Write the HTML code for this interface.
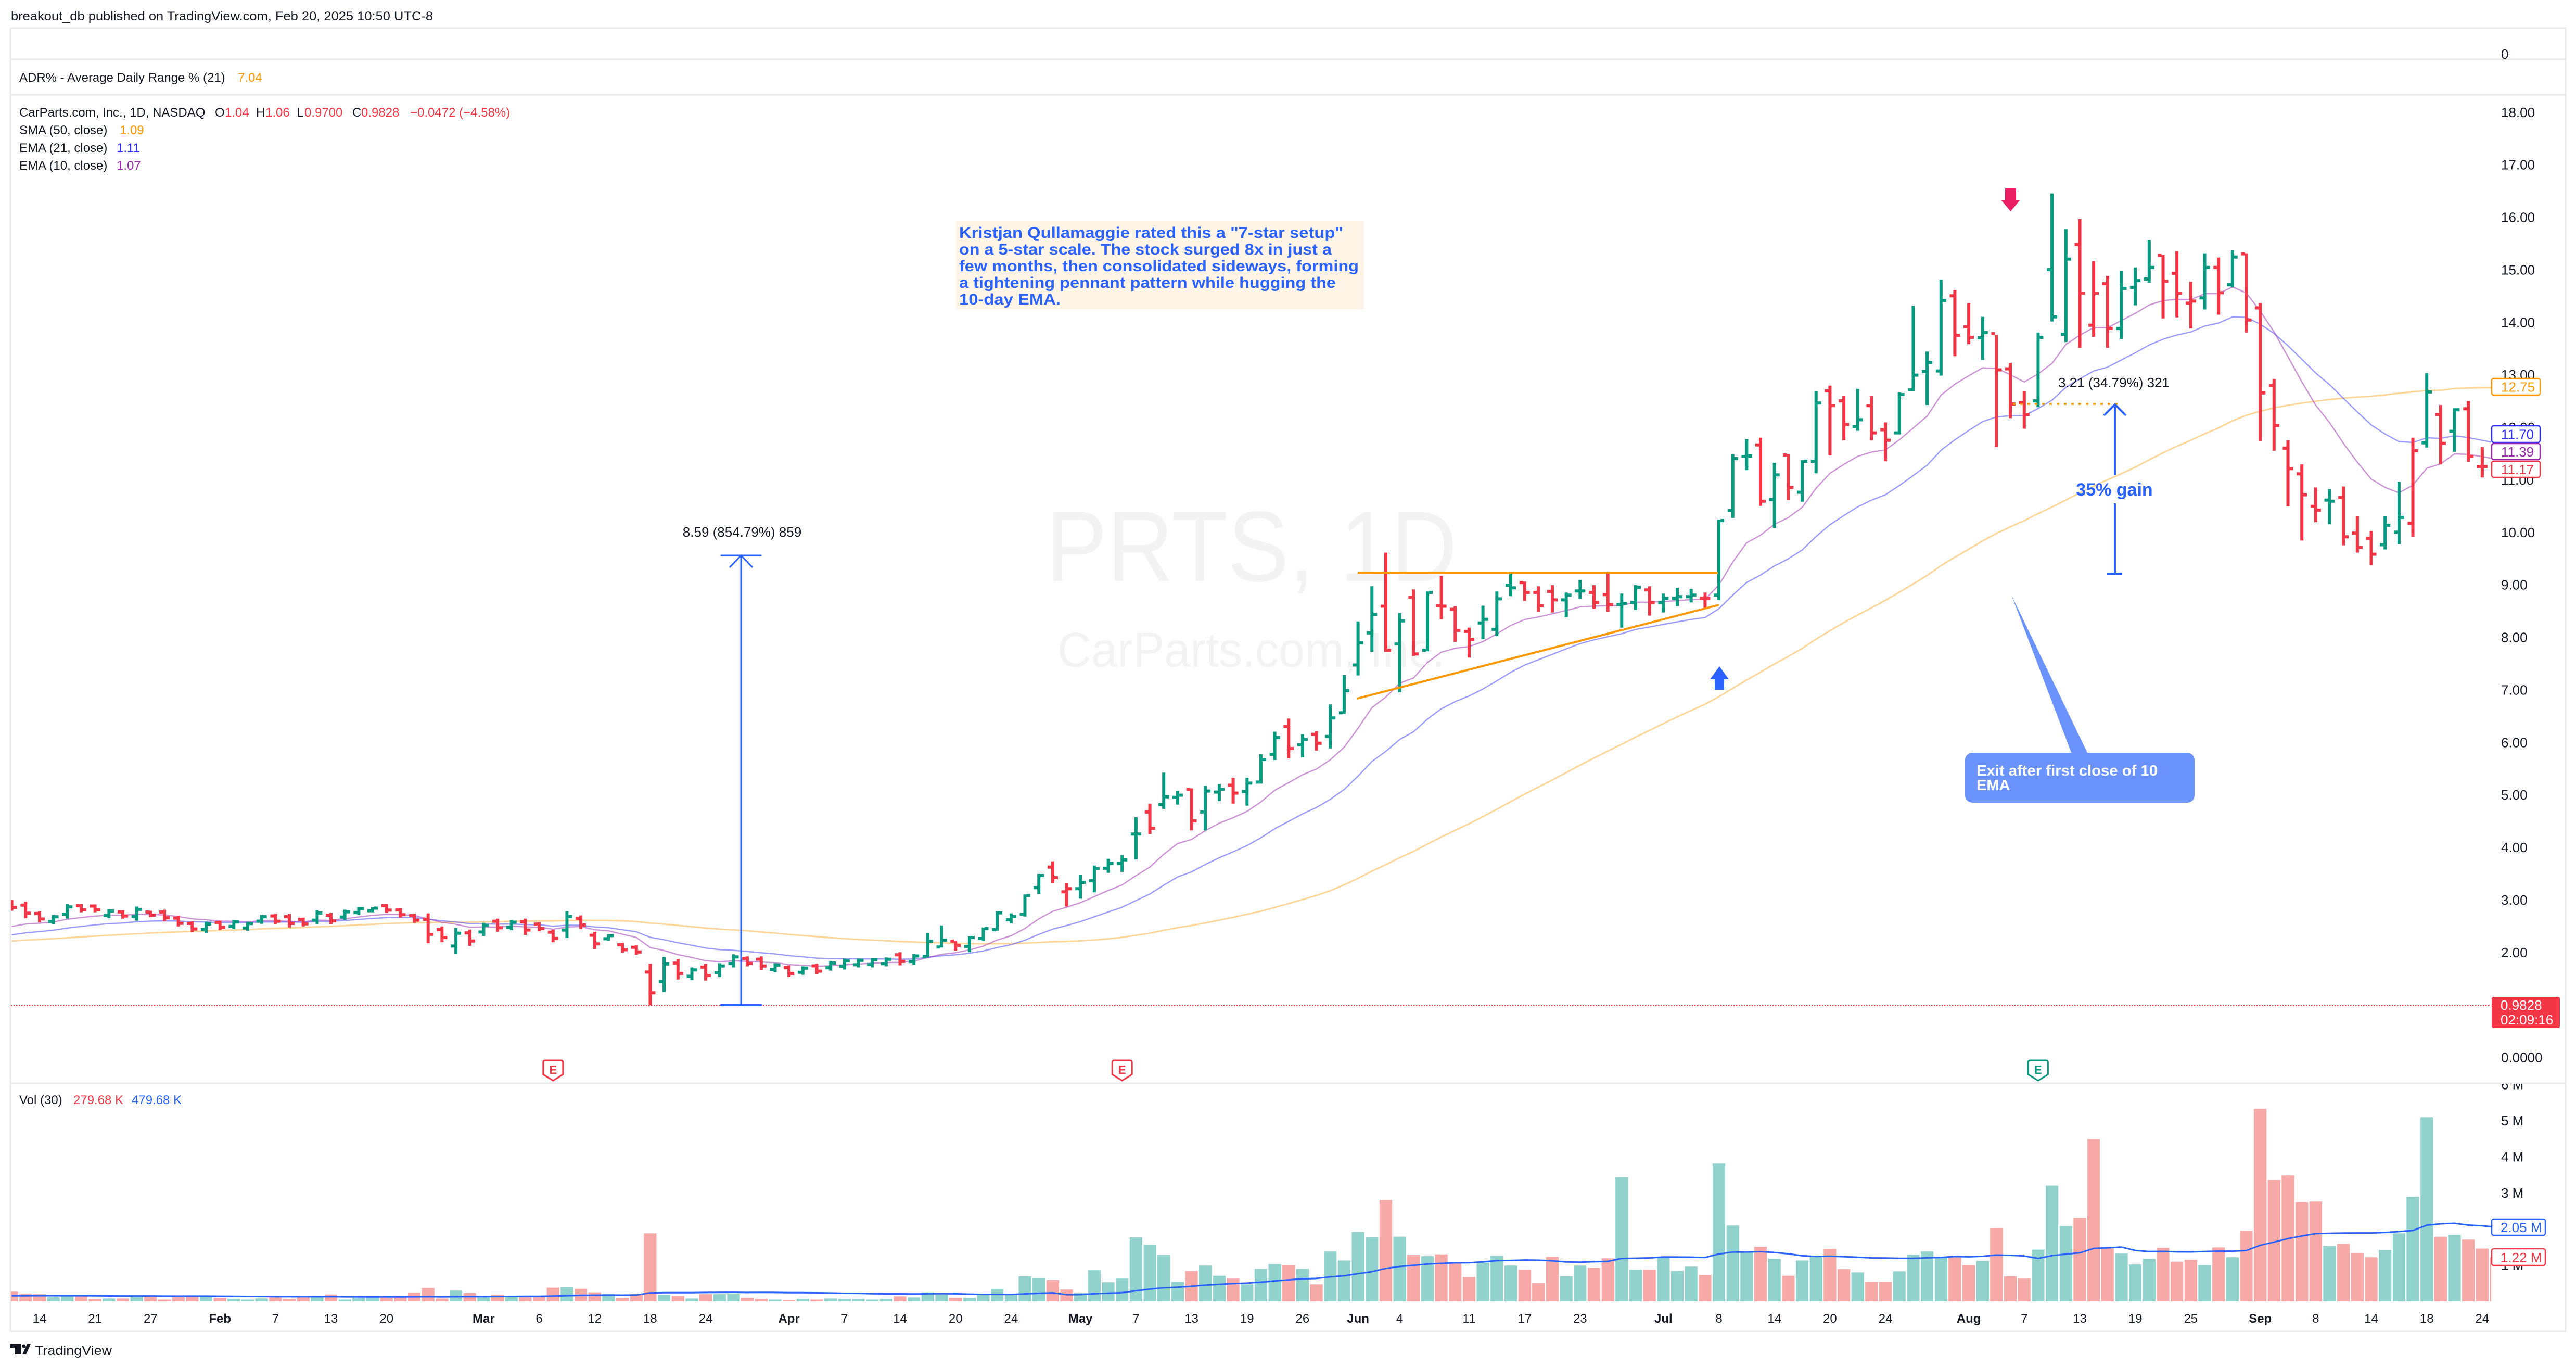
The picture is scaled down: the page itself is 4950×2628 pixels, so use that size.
<!DOCTYPE html>
<html><head><meta charset="utf-8"><title>PRTS 1D</title>
<style>
html,body{margin:0;padding:0;background:#ffffff;}
body{width:4950px;height:2628px;overflow:hidden;}
svg{display:block;}
text{font-family:"Liberation Sans",Arial,Helvetica,sans-serif;}
</style></head><body>
<svg id="chart" xmlns="http://www.w3.org/2000/svg" width="4950" height="2628" viewBox="0 0 4950 2628">
<defs>
<clipPath id="cm"><rect x="21" y="183" width="4766" height="1897"/></clipPath>
<clipPath id="cv"><rect x="21" y="2082" width="4766" height="460"/></clipPath>
<clipPath id="cva"><rect x="4788" y="2082" width="140" height="470"/></clipPath>
<clipPath id="cadr"><rect x="4788" y="55" width="140" height="58"/></clipPath>
</defs>
<rect width="4950" height="2628" fill="#ffffff"/>

<!-- header -->
<text x="21" y="39" font-size="24" fill="#131722" textLength="811" lengthAdjust="spacingAndGlyphs">breakout_db published on TradingView.com, Feb 20, 2025 10:50 UTC-8</text>

<!-- frame -->
<g stroke="#e9e9ea" stroke-width="3" fill="none">
<line x1="20" y1="54" x2="4931" y2="54"/>
<line x1="20" y1="114" x2="4931" y2="114"/>
<line x1="20" y1="182" x2="4931" y2="182"/>
<line x1="20" y1="2081" x2="4931" y2="2081"/>
<line x1="20" y1="2557" x2="4931" y2="2557"/>
<line x1="20" y1="54" x2="20" y2="2557"/>
<line x1="4930" y1="54" x2="4930" y2="2557"/>
</g>

<!-- watermark -->
<g clip-path="url(#cm)">
<text x="2010" y="1116" font-size="192" fill="#f3f3f3" textLength="790" lengthAdjust="spacingAndGlyphs">PRTS, 1D</text>
<text x="2032" y="1281" font-size="95" fill="#f3f3f3" textLength="745" lengthAdjust="spacingAndGlyphs">CarParts.com, Inc.</text>
</g>

<!-- legends -->
<text x="37" y="157" font-size="24" fill="#131722">ADR% - Average Daily Range % (21)</text>
<text x="457" y="157" font-size="24" fill="#ff9800">7.04</text>
<text x="37" y="224" font-size="24" fill="#131722">CarParts.com, Inc., 1D, NASDAQ</text>
<text x="413" y="224" font-size="24" fill="#131722">O</text>
<text x="432" y="224" font-size="24" fill="#f23645">1.04</text>
<text x="492" y="224" font-size="24" fill="#131722">H</text>
<text x="510" y="224" font-size="24" fill="#f23645">1.06</text>
<text x="570" y="224" font-size="24" fill="#131722">L</text>
<text x="585" y="224" font-size="24" fill="#f23645">0.9700</text>
<text x="677" y="224" font-size="24" fill="#131722">C</text>
<text x="694" y="224" font-size="24" fill="#f23645">0.9828</text>
<text x="788" y="224" font-size="24" fill="#f23645">−0.0472 (−4.58%)</text>
<text x="37" y="258" font-size="24" fill="#131722">SMA (50, close)</text>
<text x="230" y="258" font-size="24" fill="#ff9800">1.09</text>
<text x="37" y="292" font-size="24" fill="#131722">EMA (21, close)</text>
<text x="224" y="292" font-size="24" fill="#2d2dff">1.11</text>
<text x="37" y="326" font-size="24" fill="#131722">EMA (10, close)</text>
<text x="224" y="326" font-size="24" fill="#9c27b0">1.07</text>

<text x="37" y="2121" font-size="24" fill="#131722">Vol (30)</text>
<text x="141" y="2121" font-size="24" fill="#f23645">279.68 K</text>
<text x="253" y="2121" font-size="24" fill="#2962ff">479.68 K</text>

<!-- current price dotted line -->
<line x1="21" y1="1932" x2="4787" y2="1932" stroke="#f23645" stroke-width="2" stroke-dasharray="2.5 2.5"/>

<!-- moving averages, bars -->
<g id="ma" clip-path="url(#cm)"></g>
<g id="bars" clip-path="url(#cm)"></g>
<g id="vol" clip-path="url(#cv)"></g>

<!-- earnings markers -->
<g stroke-width="3" fill="#ffffff">
<path d="M1043.8,2041 q0,-4 4,-4 h30 q4,0 4,4 v23 l-19,12 l-19,-12 z" stroke="#f23645"/>
<path d="M2137.2,2041 q0,-4 4,-4 h30 q4,0 4,4 v23 l-19,12 l-19,-12 z" stroke="#f23645"/>
<path d="M3897.4,2041 q0,-4 4,-4 h30 q4,0 4,4 v23 l-19,12 l-19,-12 z" stroke="#089981"/>
</g>
<text x="1062.8" y="2063" font-size="22" font-weight="bold" fill="#f23645" text-anchor="middle">E</text>
<text x="2156.2" y="2063" font-size="22" font-weight="bold" fill="#f23645" text-anchor="middle">E</text>
<text x="3916.4" y="2063" font-size="22" font-weight="bold" fill="#089981" text-anchor="middle">E</text>

<!-- drawings -->
<g clip-path="url(#cm)">
<line x1="2609" y1="1100" x2="3301" y2="1100" stroke="#ff9800" stroke-width="4"/>
<line x1="2608" y1="1342" x2="3303" y2="1162" stroke="#ff9800" stroke-width="4"/>
<!-- blue up arrow -->
<polygon points="3304,1280 3322,1305 3286,1305" fill="#2962ff"/>
<rect x="3295" y="1304" width="18" height="21" fill="#2962ff"/>
<!-- pink down arrow -->
<rect x="3853" y="362" width="21" height="23" fill="#e91e63"/>
<polygon points="3845,384 3882,384 3863.5,406" fill="#e91e63"/>
<!-- annotation box -->
<rect x="1837" y="424" width="784" height="170" fill="#fff4e6"/>
<g font-size="30" font-weight="bold" fill="#2962ff">
<text x="1843" y="457" textLength="738" lengthAdjust="spacingAndGlyphs">Kristjan Qullamaggie rated this a "7-star setup"</text>
<text x="1843" y="489" textLength="716" lengthAdjust="spacingAndGlyphs">on a 5-star scale. The stock surged 8x in just a</text>
<text x="1843" y="521" textLength="768" lengthAdjust="spacingAndGlyphs">few months, then consolidated sideways, forming</text>
<text x="1843" y="553" textLength="724" lengthAdjust="spacingAndGlyphs">a tightening pennant pattern while hugging the</text>
<text x="1843" y="585" textLength="195" lengthAdjust="spacingAndGlyphs">10-day EMA.</text>
</g>
<!-- 8.59 measure -->
<g stroke="#2962ff" fill="none" stroke-linecap="round">
<line x1="1424" y1="1067" x2="1424" y2="1931" stroke-width="3"/>
<line x1="1386" y1="1067" x2="1462" y2="1067" stroke-width="3"/>
<polyline points="1403,1089 1424,1067 1445,1089" stroke-width="3"/>
<line x1="1386" y1="1931" x2="1462" y2="1931" stroke-width="4"/>
</g>
<text x="1426" y="1031" font-size="26" fill="#131722" text-anchor="middle">8.59 (854.79%) 859</text>
<!-- 3.21 measure -->
<line x1="3868" y1="776" x2="4071" y2="776" stroke="#ff9800" stroke-width="3.5" stroke-dasharray="5 9"/>
<g stroke="#2962ff" fill="none" stroke-width="4">
<line x1="4064" y1="777" x2="4064" y2="912"/>
<line x1="4064" y1="967" x2="4064" y2="1102"/>
<polyline points="4043,798 4064,777 4085,798"/>
<line x1="4048" y1="1102" x2="4078" y2="1102"/>
</g>
<text x="4062" y="744" font-size="26" fill="#131722" text-anchor="middle">3.21 (34.79%) 321</text>
<text x="4063" y="952" font-size="34" font-weight="bold" fill="#2962ff" text-anchor="middle">35% gain</text>
<!-- exit callout -->
<polygon points="3865,1143 3981,1448 4012,1448" fill="#6a93fd"/>
<rect x="3776" y="1446" width="441" height="96" rx="14" fill="#6a93fd"/>
<text x="3798" y="1490" font-size="29" font-weight="bold" fill="#ffffff" textLength="348" lengthAdjust="spacingAndGlyphs">Exit after first close of 10</text>
<text x="3798" y="1518" font-size="29" font-weight="bold" fill="#ffffff">EMA</text>
</g>

<!-- price axis -->
<g font-size="26" fill="#131722">
<text x="4806" y="113" clip-path="url(#cadr)">0</text>
<text x="4806" y="224.8">18.00</text>
<text x="4806" y="325.6">17.00</text>
<text x="4806" y="426.5">16.00</text>
<text x="4806" y="527.4">15.00</text>
<text x="4806" y="628.3">14.00</text>
<text x="4806" y="729.1">13.00</text>
<text x="4806" y="830">12.00</text>
<text x="4806" y="930.9">11.00</text>
<text x="4806" y="1031.8">10.00</text>
<text x="4806" y="1132.6">9.00</text>
<text x="4806" y="1233.5">8.00</text>
<text x="4806" y="1334.4">7.00</text>
<text x="4806" y="1435.3">6.00</text>
<text x="4806" y="1536.1">5.00</text>
<text x="4806" y="1637">4.00</text>
<text x="4806" y="1737.9">3.00</text>
<text x="4806" y="1838.8">2.00</text>
<text x="4806" y="1939.6">1.00</text>
<text x="4806" y="2040.5">0.0000</text>
</g>
<g font-size="26" fill="#131722" clip-path="url(#cva)">
<text x="4806" y="2092.5">6 M</text>
<text x="4806" y="2162">5 M</text>
<text x="4806" y="2231.5">4 M</text>
<text x="4806" y="2301">3 M</text>
<text x="4806" y="2370.5">2 M</text>
<text x="4806" y="2440">1 M</text>
</g>

<!-- price label boxes -->
<rect x="4788" y="727" width="93" height="32" rx="4" fill="#ffffff" stroke="#ff9800" stroke-width="2.5"/>
<text x="4806" y="752.5" font-size="26" fill="#ff9800">12.75</text>
<rect x="4788" y="818" width="93" height="32" rx="4" fill="#ffffff" stroke="#2d2dff" stroke-width="2.5"/>
<text x="4806" y="843.5" font-size="26" fill="#2d2dff">11.70</text>
<rect x="4788" y="852" width="93" height="31" rx="4" fill="#ffffff" stroke="#9c27b0" stroke-width="2.5"/>
<text x="4806" y="877" font-size="26" fill="#9c27b0">11.39</text>
<rect x="4788" y="886" width="93" height="31" rx="4" fill="#ffffff" stroke="#f23645" stroke-width="2.5"/>
<text x="4806" y="911" font-size="26" fill="#f23645">11.17</text>
<rect x="4788" y="1915" width="131" height="60" rx="4" fill="#f23645"/>
<text x="4805" y="1940" font-size="26" fill="#ffffff">0.9828</text>
<text x="4805" y="1968" font-size="26" fill="#ffffff">02:09:16</text>
<rect x="4788" y="2342" width="103" height="31" rx="4" fill="#ffffff" stroke="#2962ff" stroke-width="2.5"/>
<text x="4805" y="2367" font-size="26" fill="#2962ff">2.05 M</text>
<rect x="4788" y="2399" width="103" height="32" rx="4" fill="#ffffff" stroke="#f23645" stroke-width="2.5"/>
<text x="4805" y="2425" font-size="26" fill="#f23645">1.22 M</text>

<!-- time axis -->
<g font-size="24" fill="#131722" text-anchor="middle">
<text x="76" y="2541">14</text>
<text x="182.6" y="2541">21</text>
<text x="289.3" y="2541">27</text>
<text x="422.7" y="2541" font-weight="bold">Feb</text>
<text x="529.4" y="2541">7</text>
<text x="636" y="2541">13</text>
<text x="742.7" y="2541">20</text>
<text x="929.4" y="2541" font-weight="bold">Mar</text>
<text x="1036.1" y="2541">6</text>
<text x="1142.8" y="2541">12</text>
<text x="1249.4" y="2541">18</text>
<text x="1356.1" y="2541">24</text>
<text x="1516.1" y="2541" font-weight="bold">Apr</text>
<text x="1622.8" y="2541">7</text>
<text x="1729.5" y="2541">14</text>
<text x="1836.2" y="2541">20</text>
<text x="1942.9" y="2541">24</text>
<text x="2076.2" y="2541" font-weight="bold">May</text>
<text x="2182.9" y="2541">7</text>
<text x="2289.6" y="2541">13</text>
<text x="2396.3" y="2541">19</text>
<text x="2502.9" y="2541">26</text>
<text x="2609.6" y="2541" font-weight="bold">Jun</text>
<text x="2689.6" y="2541">4</text>
<text x="2823" y="2541">11</text>
<text x="2929.7" y="2541">17</text>
<text x="3036.3" y="2541">23</text>
<text x="3196.4" y="2541" font-weight="bold">Jul</text>
<text x="3303" y="2541">8</text>
<text x="3409.7" y="2541">14</text>
<text x="3516.4" y="2541">20</text>
<text x="3623.1" y="2541">24</text>
<text x="3783.1" y="2541" font-weight="bold">Aug</text>
<text x="3889.8" y="2541">7</text>
<text x="3996.5" y="2541">13</text>
<text x="4103.1" y="2541">19</text>
<text x="4209.8" y="2541">25</text>
<text x="4343.2" y="2541" font-weight="bold">Sep</text>
<text x="4449.8" y="2541">8</text>
<text x="4556.5" y="2541">14</text>
<text x="4663.2" y="2541">18</text>
<text x="4769.9" y="2541">24</text>
</g>

<!-- logo -->
<g fill="#131722">
<rect x="20" y="2582" width="20" height="7"/>
<rect x="29" y="2582" width="11" height="20"/>
<circle cx="46" cy="2586" r="3.5"/>
<polygon points="52,2582 59,2582 50,2602 43,2602"/>
</g>
<text x="67" y="2603" font-size="25" fill="#131722" textLength="148" lengthAdjust="spacingAndGlyphs">TradingView</text>
</svg>
<script>
(function(){
var NS='http://www.w3.org/2000/svg';
function X(i){return -137.4+26.67*i;}
function Y(p){return 2031-100.875*p;}
function f(v){return Math.round(v*10)/10;}
function el(t,a,p){var e=document.createElementNS(NS,t);for(var k in a)e.setAttribute(k,a[k]);p.appendChild(e);return e;}
var D=[
[3.00,2.79,'r'],[2.96,2.65,'r'],[2.78,2.57,'r'],[2.71,2.53,'g'],[2.92,2.64,'g'],
[2.92,2.76,'r'],[2.91,2.76,'r'],[2.82,2.65,'g'],[2.80,2.64,'r'],[2.87,2.60,'g'],
[2.79,2.67,'r'],[2.81,2.59,'r'],[2.69,2.49,'r'],[2.59,2.38,'r'],[2.58,2.37,'g'],
[2.60,2.42,'r'],[2.61,2.44,'g'],[2.58,2.41,'g'],[2.71,2.54,'g'],[2.73,2.53,'r'],
[2.73,2.47,'r'],[2.66,2.49,'r'],[2.80,2.53,'g'],[2.75,2.53,'r'],[2.81,2.61,'g'],
[2.86,2.71,'g'],[2.86,2.76,'g'],[2.92,2.75,'r'],[2.84,2.66,'r'],[2.73,2.56,'r'],
[2.74,2.17,'r'],[2.49,2.19,'r'],[2.46,1.97,'g'],[2.43,2.12,'r'],[2.56,2.31,'g'],
[2.64,2.39,'r'],[2.61,2.42,'g'],[2.64,2.33,'r'],[2.57,2.40,'r'],[2.43,2.19,'r'],
[2.78,2.27,'g'],[2.70,2.44,'r'],[2.39,2.06,'r'],[2.34,2.22,'g'],[2.18,1.99,'r'],
[2.13,1.95,'r'],[1.78,0.99,'r'],[1.91,1.24,'g'],[1.87,1.48,'r'],[1.71,1.47,'g'],
[1.78,1.46,'r'],[1.79,1.53,'g'],[1.96,1.71,'g'],[1.92,1.73,'r'],[1.92,1.66,'r'],
[1.79,1.62,'g'],[1.75,1.53,'r'],[1.73,1.57,'g'],[1.78,1.58,'r'],[1.83,1.65,'g'],
[1.88,1.67,'g'],[1.88,1.71,'g'],[1.89,1.71,'g'],[1.90,1.73,'g'],[2.00,1.75,'r'],
[1.97,1.76,'g'],
[2.37,1.90,'g',1.92,2.21],[2.51,2.09,'g',2.10,2.23],[2.21,2.03,'r',2.21,2.13],[2.30,2.00,'g',2.11,2.28],
[2.47,2.21,'g',2.26,2.45],[2.78,2.41,'g',2.43,2.75],[2.74,2.55,'g',2.62,2.68],[3.10,2.68,'g',2.72,3.08],
[3.49,3.11,'g',3.23,3.46],[3.73,3.32,'r',3.62,3.42],[3.32,2.87,'r',3.15,3.21],[3.48,3.02,'g',3.21,3.33],
[3.65,3.14,'g',3.36,3.59],[3.78,3.51,'g',3.60,3.69],[3.85,3.53,'g',3.69,3.76],[4.57,3.77,'g',4.25,4.25],
[4.83,4.25,'r',4.67,4.36],[5.42,4.73,'g',4.81,4.96],[5.07,4.81,'g',4.95,4.99],[5.12,4.32,'r',5.10,4.50],
[5.17,4.32,'g',4.67,5.07],[5.20,4.88,'g',5.05,5.10],[5.32,4.83,'r',5.18,5.03],[5.32,4.79,'g',5.06,5.22],
[5.77,5.21,'g',5.24,5.67],[6.20,5.66,'g',5.77,6.09],[6.45,5.69,'r',6.30,5.88],[6.15,5.71,'g',5.95,6.05],
[6.21,5.84,'r',6.15,5.98],[6.72,5.88,'g',6.11,6.46],[7.28,6.54,'g',6.56,6.98],[8.30,7.27,'g',7.47,7.89],
[8.97,7.72,'g',8.08,8.43],[9.61,7.72,'r',8.59,7.75],[8.46,6.95,'g',7.87,8.31],[8.91,7.64,'r',8.76,7.68],
[8.87,7.73,'g',7.75,8.85],[9.17,8.34,'r',8.60,8.59],[8.59,7.91,'r',8.53,8.13],[8.18,7.61,'r',8.11,7.96],
[8.60,7.96,'g',8.27,8.34],[8.87,8.02,'g',8.15,8.73],[9.24,8.78,'g',8.99,8.94],[9.06,8.69,'r',9.04,8.85],
[8.97,8.48,'r',8.85,8.60],[8.99,8.47,'r',8.87,8.71],[8.85,8.38,'g',8.71,8.80],[9.09,8.73,'g',8.88,8.88],
[8.99,8.54,'r',8.85,8.66],[9.22,8.48,'r',8.81,8.62],[8.83,8.18,'g',8.62,8.64],[8.99,8.52,'g',8.66,8.95],
[8.97,8.41,'r',8.90,8.66],[8.83,8.47,'g',8.66,8.74],[8.94,8.59,'g',8.74,8.77],[8.92,8.66,'g',8.77,8.80],
[8.85,8.55,'r',8.74,8.74],[10.24,8.71,'g',8.80,10.22],[11.49,10.27,'g',10.41,11.40],[11.77,11.18,'g',11.44,11.45],
[11.80,10.50,'r',11.66,10.59],[11.32,10.08,'g',10.62,11.09],[11.49,10.61,'r',11.47,10.85],[11.37,10.58,'g',10.76,11.35],
[12.68,11.12,'g',11.35,12.46],[12.79,11.46,'r',12.69,12.41],[12.60,11.75,'r',12.50,12.05],[12.73,11.93,'g',12.01,12.14],
[12.59,11.75,'r',12.41,11.89],[12.09,11.35,'r',11.95,11.75],[12.66,11.86,'g',11.89,12.62],[14.31,12.68,'g',12.71,12.99],
[13.44,12.42,'g',13.06,13.23],[14.81,12.98,'g',13.07,14.41],[14.61,13.35,'r',14.50,13.75],[14.36,13.58,'r',13.91,13.71],
[14.10,13.28,'g',13.70,13.80],[13.76,11.62,'r',13.78,13.09],[13.22,12.17,'r',13.11,12.44],[12.68,11.97,'r',12.47,12.24],
[13.80,12.38,'g',12.50,13.71],[16.45,14.01,'g',15.00,14.10],[15.77,13.62,'g',13.77,15.20],[15.96,13.51,'r',15.48,14.55],
[15.16,13.72,'r',13.94,14.55],[14.88,13.51,'r',14.73,13.88],[14.98,13.68,'g',13.88,14.64],[15.04,14.32,'g',14.66,14.79],
[15.56,14.75,'g',14.82,15.04],[15.28,14.07,'r',15.27,14.78],[15.35,14.09,'r',14.93,14.55],[14.77,13.88,'r',14.36,14.40],
[15.31,14.24,'g',14.46,15.04],[15.23,14.14,'r',15.04,14.56],[15.37,14.66,'g',14.71,15.24],[15.31,13.80,'r',15.30,14.04],
[14.36,11.73,'r',14.27,12.65],[12.92,11.55,'r',12.79,12.03],[11.75,10.49,'r',11.60,11.21],[11.29,9.84,'r',11.11,10.71],
[10.85,10.19,'r',10.49,10.42],[10.82,10.15,'g',10.61,10.59],[10.87,9.75,'r',10.66,9.91],[10.30,9.61,'r',9.98,9.71],
[10.02,9.37,'r',9.88,9.58],[10.30,9.67,'g',9.76,10.13],[10.96,9.77,'g',10.00,10.28],[11.80,9.91,'r',10.17,11.55],
[13.03,11.61,'g',11.70,12.67],[12.42,11.29,'r',12.24,11.69],[12.36,11.53,'g',11.92,12.33],[12.50,11.34,'r',12.35,11.44],
[11.62,11.04,'r',11.25,11.25],[11.45,10.95,'r',11.30,11.17]
];
var VS=".27r .21r .20r .12g .15g .15r .07r .08g .08r .16g "+
".13r .05r .12r .15r .15g .10r .07g .05g .08g .12r "+
".07r .13r .15g .19r .05g .10g .15g .10r .15r .24r "+
".37r .08r .30g .23r .15g .18r .13g .14r .14r .38r "+
".40g .35r .25r .21g .10r .20r 1.88r .18g .15r .08g "+
".20r .20g .21g .10r .07r .05g .04r .07g .05r .08g "+
".07g .07g .05g .07g .14r .11g .25g .18g .10r .10g "+
".18g .35g .18g .69g .64g .59r .33r .23g .86g .53g "+
".63g 1.77g 1.56g 1.28g .54g .84r .99g .71g .63r .47g "+
".90g 1.03g 1.00r .90g .47r 1.38g 1.13g 1.92g 1.78g 2.80r "+
"1.79g 1.28r 1.25g 1.30r 1.06r .67r 1.07g 1.26g .99g .87r "+
".51r 1.23r .69g .99g .93r 1.19r 3.43g .87g .87r 1.23g "+
".84g .96g .73r 3.81g 2.10g 1.35g 1.51r 1.18g .71r 1.13g "+
"1.25g 1.45r .89r .80g .54r .54r .83g 1.29g 1.38g 1.22g "+
"1.25r 1.00r 1.12g 2.02r .69r .63r 1.43g 3.20g 2.08g 2.31r "+
"4.48r 1.51r 1.32g 1.02g 1.18g 1.48r 1.10r 1.15r 1.00g 1.49r "+
"1.22g 1.95r 5.32r 3.36r 3.48r 2.74r 2.76r 1.53g 1.59r 1.33r "+
"1.22r 1.42g 1.88g 2.89g 5.09g 1.79r 1.84g 1.71r 1.46r 1.22r";
var S=6,n=D.length,O=[],H=[],L=[],C=[],K=[],k,j;
for(k=0;k<n;k++){var d=D[k],h=d[0],l=d[1],r=h-l;H.push(h);L.push(l);K.push(d[2]);
 if(d.length>3){O.push(d[3]);C.push(d[4]);}
 else if(d[2]=='g'){O.push(l+0.3*r);C.push(h-0.2*r);}
 else{O.push(h-0.2*r);C.push(l+0.3*r);}}
var all=[];for(k=0;k<44;k++)all.push(1.95+k*0.35/43);
all=all.concat([2.5,2.6,2.7,2.8,2.85,2.85]);
for(k=0;k<n;k++)all.push(C[k]);
var e10=2.41,e21=2.28,q10=[],q21=[],q50=[];
for(k=0;k<n;k++){var i=k+S,c=C[k];e10+=2/11*(c-e10);e21+=2/22*(c-e21);
 var s=0;for(j=i-49;j<=i;j++)s+=all[j+44];
 var x=f(X(i));q10.push(x+','+f(Y(e10)));q21.push(x+','+f(Y(e21)));q50.push(x+','+f(Y(s/50)));}
var gm=document.getElementById('ma');
el('polyline',{points:q50.join(' '),fill:'none',stroke:'#ff9800','stroke-opacity':'0.4','stroke-width':'3','stroke-linejoin':'round'},gm);
el('polyline',{points:q21.join(' '),fill:'none',stroke:'#3a3aff','stroke-opacity':'0.5','stroke-width':'2.5','stroke-linejoin':'round'},gm);
el('polyline',{points:q10.join(' '),fill:'none',stroke:'#9c27b0','stroke-opacity':'0.5','stroke-width':'2.5','stroke-linejoin':'round'},gm);
var dg='',dr='';
for(k=0;k<n;k++){var bx=X(k+S),yh=Y(H[k]),yl=Y(L[k]),yo=Y(O[k]),yc=Y(C[k]);
 var p='M'+f(bx-3)+' '+f(yh)+'h6V'+f(yl)+'h-6Z'+'M'+f(bx-10)+' '+f(yo-3)+'h7v6h-7Z'+'M'+f(bx+3)+' '+f(yc-3)+'h7v6h-7Z';
 if(K[k]=='g')dg+=p;else dr+=p;}
var gb=document.getElementById('bars');
el('path',{d:dg,fill:'#089981'},gb);el('path',{d:dr,fill:'#f23645'},gb);
var vv=VS.replace(/^\s+|\s+$/g,'').split(/\s+/),vg='',vr='',vm=[],arr=[];
for(k=0;k<30;k++)arr.push(0.15);
for(k=0;k<vv.length;k++){var t=vv[k],v=parseFloat(t),cc=t.charAt(t.length-1),vx=X(k+S),vy=2500-69.5*v;
 var q='M'+f(vx-12.1)+' '+f(vy)+'h24.2V2500h-24.2Z';if(cc=='g')vg+=q;else vr+=q;arr.push(v);
 var sm=0;for(j=arr.length-30;j<arr.length;j++)sm+=arr[j];vm.push(f(vx)+','+f(2500-69.5*sm/30));}
var gv=document.getElementById('vol');
el('path',{d:vg,fill:'#92d2cc'},gv);el('path',{d:vr,fill:'#f7a9a7'},gv);
el('polyline',{points:vm.join(' '),fill:'none',stroke:'#2962ff','stroke-width':'3','stroke-linejoin':'round'},gv);
})();
</script>
</body></html>
